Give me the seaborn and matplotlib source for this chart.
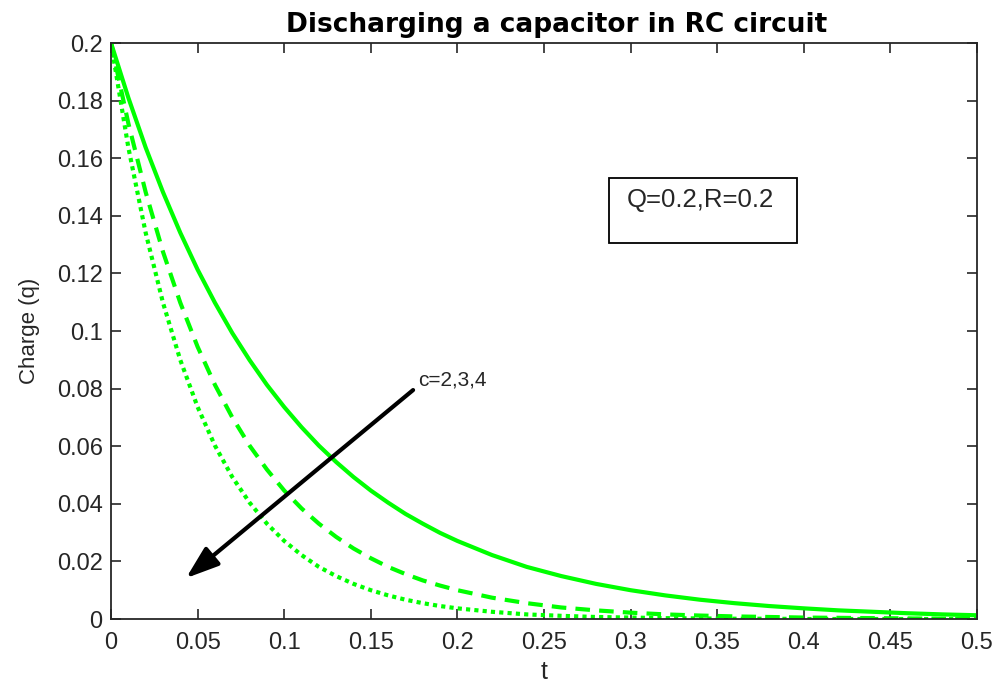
import pandas as pd
import numpy as np
import matplotlib.pyplot as plt
import seaborn as sns
from matplotlib.patches import Rectangle

# values
t = [0.00, 0.01, 0.02, 0.03, 0.04, 0.05, 0.06, 0.07, 0.08, 0.09, 0.10,
     0.11, 0.12, 0.13, 0.14, 0.15, 0.16, 0.17, 0.18, 0.19, 0.20,
     0.22, 0.24, 0.26, 0.28, 0.30, 0.32, 0.34, 0.36, 0.38, 0.40,
     0.42, 0.44, 0.46, 0.48, 0.50]
q_c2 = [0.2, 0.1810, 0.1637, 0.1482, 0.1341, 0.1213, 0.1098, 0.0993, 0.0899, 0.0813, 0.0736,
        0.0666, 0.0602, 0.0545, 0.0493, 0.0446, 0.0404, 0.0365, 0.0331, 0.0299, 0.0271,
        0.0222, 0.0181, 0.0149, 0.0122, 0.0100, 0.0082, 0.0067, 0.0055, 0.0045, 0.0037,
        0.0030, 0.0025, 0.0020, 0.0016, 0.0013]
q_c3 = [0.2, 0.1721, 0.1482, 0.1275, 0.1098, 0.0945, 0.0813, 0.0700, 0.0602, 0.0519, 0.0446,
        0.0384, 0.0331, 0.0285, 0.0245, 0.0211, 0.0181, 0.0156, 0.0134, 0.0116, 0.0100,
        0.0074, 0.0055, 0.0040, 0.0030, 0.0022, 0.0016, 0.0012, 0.0009, 0.0007, 0.0005,
        0.0004, 0.0003, 0.0002, 0.0001, 0.0001]
q_c4 = [0.2, 0.1637, 0.1341, 0.1098, 0.0899, 0.0736, 0.0602, 0.0493, 0.0404, 0.0331, 0.0271,
        0.0222, 0.0181, 0.0149, 0.0122, 0.0100, 0.0082, 0.0067, 0.0055, 0.0045, 0.0037,
        0.0025, 0.0016, 0.0011, 0.0007, 0.0005, 0.0003, 0.0002, 0.0001, 0.0001, 0.0,
        0.0, 0.0, 0.0, 0.0, 0.0]
c_labels = ["c=2", "c=3", "c=4"]
xtick_labels = ["0", "0.05", "0.1", "0.15", "0.2", "0.25", "0.3", "0.35", "0.4", "0.45", "0.5"]
ytick_labels = ["0", "0.02", "0.04", "0.06", "0.08", "0.1", "0.12", "0.14", "0.16", "0.18", "0.2"]

df = pd.DataFrame({
    "t": t * 3,
    "q": q_c2 + q_c3 + q_c4,
    "c": [c_labels[0]] * len(t) + [c_labels[1]] * len(t) + [c_labels[2]] * len(t),
})

sns.set_style("white")
plt.rcParams["font.family"] = ["Liberation Sans", "DejaVu Sans"]

fig, ax = plt.subplots(figsize=(10.04, 6.83), dpi=100)
fig.subplots_adjust(left=0.1106, right=0.9731, top=0.937, bottom=0.0937)

green = "#00ff00"
sns.lineplot(data=df, x="t", y="q", hue="c", style="c",
             palette={c: green for c in c_labels},
             dashes={"c=2": "", "c=3": (3.5, 2.2), "c=4": (1, 1)},
             linewidth=3, legend=False, ax=ax)

ax.set_xlim(0, 0.5)
ax.set_ylim(0, 0.2)
ax.set_xticks(np.linspace(0, 0.5, 11))
ax.set_yticks(np.linspace(0, 0.2, 11))
ax.set_xticklabels(xtick_labels)
ax.set_yticklabels(ytick_labels)
ax.tick_params(direction="in", bottom=True, left=True, top=True, right=True,
               length=7, width=1.2, labelsize=17, colors="#262626")
ax.tick_params(axis="x", pad=9)
ax.tick_params(axis="y", pad=6)
for s in ax.spines.values():
    s.set_color("#262626")
    s.set_linewidth(1.3)

ax.set_xlabel("t", fontsize=18, color="#262626", labelpad=5)
ax.set_ylabel("Charge (q)", fontsize=16, color="#262626", labelpad=12)
ax.set_title("Discharging a capacitor in RC circuit", fontsize=19, fontweight="bold",
             family="DejaVu Sans", color="black", x=0.515, pad=8)

ax.annotate("", xy=(0.0433, 0.0142), xytext=(0.1744, 0.0795),
            arrowprops=dict(arrowstyle="-|>,head_length=2.0,head_width=0.7",
                            color="black", lw=3, shrinkA=0, shrinkB=0))
ax.text(0.1775, 0.083, "c=2,3,4", fontsize=15, ha="left", va="center")

ax.add_patch(Rectangle((0.575, 0.653), 0.217, 0.1126, transform=ax.transAxes,
                       fill=False, edgecolor="black", lw=1.3))
ax.text(0.596, 0.727, "Q=0.2,R=0.2", transform=ax.transAxes, fontsize=18.5,
        ha="left", va="center")

plt.savefig("out.png", dpi=100)
